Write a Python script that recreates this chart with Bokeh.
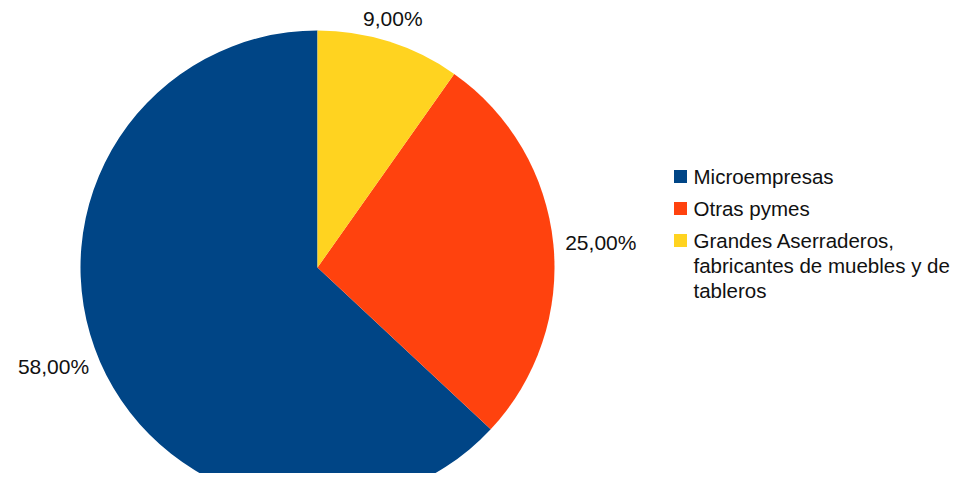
import numpy as np
from bokeh.plotting import figure
from bokeh.models import Range1d, ColumnDataSource
from bokeh.core.properties import value
from bokeh.embed import file_html
from bokeh.resources import INLINE

# ---- data ----
categories = [
    "Microempresas",
    "Otras pymes",
    "Grandes Aserraderos,\nfabricantes de muebles y de\ntableros",
]
shares = [58.0, 25.0, 9.0]
share_labels = ["58,00%", "25,00%", "9,00%"]
colors = ["#004586", "#ff420e", "#ffd320"]

# ---- geometry (screen-like data units) ----
W, H = 955, 473
cx, cy_screen, r = 317, 267, 237
cy = H - cy_screen
label_gap = 12

vals = np.array(shares)
frac = vals / vals.sum()
cum = np.concatenate([[0.0], np.cumsum(frac)])
start = np.pi / 2 + cum[:-1] * 2 * np.pi
end = np.pi / 2 + cum[1:] * 2 * np.pi
mid = (start + end) / 2

lx = cx + (r + label_gap) * np.cos(mid)
ly = cy + (r + label_gap) * np.sin(mid)
aligns = ["left" if c > 0.5 else ("right" if c < -0.5 else "center") for c in np.cos(mid)]
baselines = ["bottom" if s > 0.5 else ("top" if s < -0.5 else "middle") for s in np.sin(mid)]

src = ColumnDataSource(dict(start=start, end=end, color=colors, cat=categories))
lab = ColumnDataSource(dict(x=lx, y=ly, text=share_labels, align=aligns, base=baselines))

p = figure(width=W, height=H, output_backend="svg", toolbar_location=None,
           x_range=Range1d(0, W), y_range=Range1d(0, H),
           min_border=0)
p.axis.visible = False
p.grid.visible = False
p.outline_line_color = None

p.wedge(x=cx, y=cy, radius=r, start_angle="start", end_angle="end",
        direction="anticlock", fill_color="color", line_color=None, source=src)

p.text(x="x", y="y", text="text", text_align="align", text_baseline="base",
       text_font=value("Liberation Sans"), text_font_size="21px",
       text_color="#111111", source=lab)

# legend
leg_top = H - 164
leg_step = 32
n = len(categories)
leg_y_top = [leg_top - leg_step * i for i in range(n)]
leg_src = ColumnDataSource(dict(
    sx=[680] * n, sy=[y - 12 for y in leg_y_top],
    tx=[693] * n, ty=leg_y_top, text=categories, color=colors))
p.scatter(x="sx", y="sy", marker="square", size=13, fill_color="color",
          line_color=None, source=leg_src)
p.text(x="tx", y="ty", text="text", text_align="left", text_baseline="top",
       text_font=value("Liberation Sans"), text_font_size="20.5px",
       text_line_height=1.09, text_color="#111111", source=leg_src)

open("out.html", "w").write(file_html(p, INLINE))
